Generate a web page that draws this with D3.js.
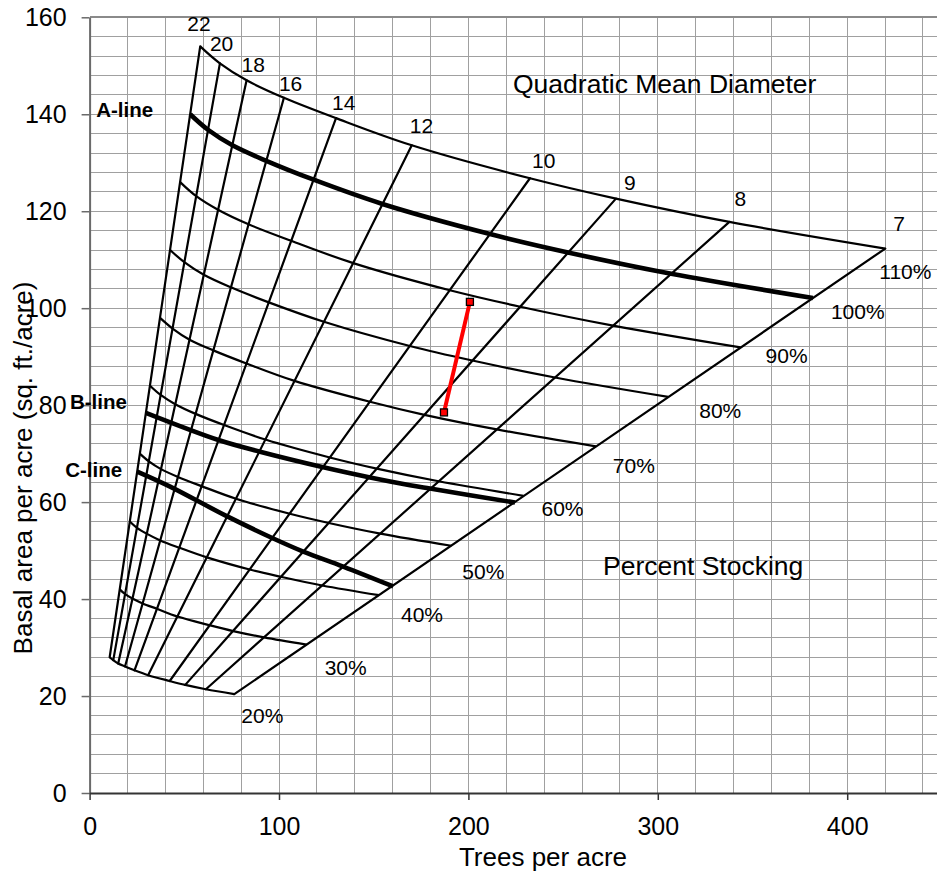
<!DOCTYPE html>
<html>
<head>
<meta charset="utf-8">
<script src="https://cdn.jsdelivr.net/npm/d3@7"></script>
<style>
  body { margin: 0; background: #fff; }
  svg text { font-family: Arial, 'Liberation Sans', sans-serif; fill: #000; }
</style>
</head>
<body>
<div id="chart"></div>
<script>
// quadratic mean diameter lines (inches), left to right
const DIAMETERS = ['22', '20', '18', '16', '14', '12', '10', '9', '8', '7'];
const STOCKING_LABELS = ['20%', '30%', '40%', '50%', '60%', '70%', '80%', '90%', '100%', '110%'];
const X_TICKS = [0, 100, 200, 300, 400];
const Y_TICKS = [0, 20, 40, 60, 80, 100, 120, 140, 160];

// [trees per acre, basal area] where each stocking line meets the diameter lines (22 ... 7)
const stock20 = [[10.6, 28.0], [12.5, 27.4], [15.1, 26.7], [18.7, 26.1], [23.7, 25.3], [30.9, 24.3], [42.3, 23.1], [50.5, 22.3], [61.4, 21.4], [76.4, 20.4]];
const stock30 = [[15.9, 42.0], [18.8, 41.0], [22.6, 40.1], [28.0, 39.1], [35.5, 38.0], [46.4, 36.4], [63.4, 34.6], [75.8, 33.4], [92.1, 32.1], [114.6, 30.6]];
const stock40 = [[21.2, 56.0], [25.0, 54.7], [30.1, 53.5], [37.3, 52.1], [47.3, 50.6], [61.9, 48.6], [84.5, 46.1], [101.1, 44.6], [122.8, 42.8], [152.8, 40.8]];
const stock50 = [[26.5, 70.0], [31.3, 68.4], [37.7, 66.8], [46.6, 65.2], [59.1, 63.3], [77.3, 60.7], [105.7, 57.6], [126.3, 55.7], [153.5, 53.5], [191.0, 51.0]];
const stock60 = [[31.9, 84.0], [37.5, 82.1], [45.2, 80.2], [56.0, 78.2], [71.0, 75.9], [92.8, 72.9], [126.8, 69.2], [151.6, 66.9], [184.3, 64.3], [229.1, 61.3]];
const stock70 = [[37.2, 98.0], [43.8, 95.8], [52.8, 93.5], [65.3, 91.3], [82.8, 88.6], [108.2, 85.0], [148.0, 80.7], [176.8, 78.0], [215.0, 75.0], [267.3, 71.5]];
const stock80 = [[42.5, 112.0], [50.0, 109.5], [60.3, 106.9], [74.6, 104.3], [94.6, 101.2], [123.7, 97.2], [169.1, 92.2], [202.1, 89.2], [245.7, 85.7], [305.5, 81.7]];
const stock90 = [[47.8, 126.0], [56.3, 123.1], [67.8, 120.3], [83.9, 117.3], [106.4, 113.9], [139.2, 109.3], [190.2, 103.7], [227.4, 100.3], [276.4, 96.4], [343.7, 91.9]];
const stock100 = [[53.1, 140.0], [62.5, 136.8], [75.4, 133.6], [93.3, 130.4], [118.3, 126.5], [154.6, 121.5], [211.4, 115.3], [252.6, 111.5], [307.1, 107.1], [381.9, 102.1]];
const stock110 = [[58.4, 154.0], [68.8, 150.5], [82.9, 147.0], [102.6, 143.4], [130.1, 139.2], [170.1, 133.6], [232.5, 126.8], [277.9, 122.6], [337.8, 117.8], [420.1, 112.3]];

const bLine = [[29.7, 78.4], [68.0, 72.8], [90.0, 70.4], [123.4, 67.2], [148.1, 65.1], [169.2, 63.5], [179.7, 62.8], [224.6, 59.9]];
const cLine = [[25.1, 66.3], [42.5, 63.2], [72.4, 57.1], [97.0, 52.5], [112.8, 49.8], [133.9, 46.7], [160.3, 42.6]];
const standPath = [[187.1, 78.5], [200.8, 101.3]];

const stockingCurves = [stock20, stock30, stock40, stock50, stock60, stock70, stock80, stock90, stock100, stock110];

// label nudges in pixels (layout only)
const diamLabelOffsets = [[-13, -15], [-10, -12], [-5, -8], [-5, -7], [-4, -8], [-2, -12], [2, -10], [8, -9], [5, -16], [8, -18]];
const pctLabelOffsets = [[7, 29], [18, 30], [22, 27], [11, 33], [18, 20], [17, 27], [31, 21], [25, 16], [18, 21], [-6, 30]];

const width = 937;
const height = 873;

const svg = d3.select('#chart')
  .append('svg')
  .attr('width', width)
  .attr('height', height)
  .style('background', '#fff');

const x = d3.scaleLinear().domain([0, 450]).range([89.6, 941.9]);
const y = d3.scaleLinear().domain([0, 160]).range([793, 17.3]);

// grid
const grid = svg.append('g').attr('shape-rendering', 'crispEdges');
grid.selectAll('.vgrid')
  .data(d3.range(20, 441, 20))
  .join('line')
  .attr('x1', (d) => x(d))
  .attr('x2', (d) => x(d))
  .attr('y1', y(0))
  .attr('y2', y(160))
  .attr('stroke', '#a0a0a0')
  .attr('stroke-width', 1);
grid.selectAll('.hgrid')
  .data(d3.range(4, 160, 4))
  .join('line')
  .attr('x1', x(0))
  .attr('x2', x(450))
  .attr('y1', (d) => y(d))
  .attr('y2', (d) => y(d))
  .attr('stroke', '#a0a0a0')
  .attr('stroke-width', 1);
grid.append('line')
  .attr('x1', x(0)).attr('x2', x(450))
  .attr('y1', y(160)).attr('y2', y(160))
  .attr('stroke', '#8a8a8a')
  .attr('stroke-width', 2);

// axes
const yAxis = svg.append('g')
  .attr('transform', `translate(${x(0)},0)`)
  .call(d3.axisLeft(y).tickValues(Y_TICKS).tickSize(8).tickSizeOuter(0).tickPadding(15));
yAxis.select('.domain').attr('stroke', '#6a6a6a').attr('stroke-width', 2);
yAxis.selectAll('.tick line').attr('stroke', '#6a6a6a').attr('stroke-width', 1.5);
yAxis.selectAll('text').attr('font-size', 25).attr('font-family', null);

const xAxis = svg.append('g')
  .attr('transform', `translate(0,${y(0)})`)
  .call(d3.axisBottom(x).tickValues(X_TICKS).tickSize(7).tickSizeOuter(0).tickPadding(17));
xAxis.select('.domain').attr('stroke', '#333').attr('stroke-width', 2);
xAxis.selectAll('.tick line').attr('stroke', '#333').attr('stroke-width', 1.5);
xAxis.selectAll('text').attr('font-size', 25).attr('font-family', null);

const curveLine = d3.line()
  .x((d) => x(d[0]))
  .y((d) => y(d[1]))
  .curve(d3.curveCatmullRom.alpha(0.5));

// percent stocking lines (100% is the A-line, drawn heavy)
svg.append('g')
  .selectAll('path')
  .data(stockingCurves)
  .join('path')
  .attr('d', curveLine)
  .attr('fill', 'none')
  .attr('stroke', '#000')
  .attr('stroke-width', (d, i) => (i === 8 ? 4.6 : 2.2));

// diameter lines run from the 20% line to the 110% line
svg.append('g')
  .selectAll('line')
  .data(DIAMETERS.map((dia, i) => [stock20[i], stock110[i]]))
  .join('line')
  .attr('x1', (d) => x(d[0][0]))
  .attr('y1', (d) => y(d[0][1]))
  .attr('x2', (d) => x(d[1][0]))
  .attr('y2', (d) => y(d[1][1]))
  .attr('stroke', '#000')
  .attr('stroke-width', 2.2)
  .attr('stroke-linecap', 'round');

// B and C lines
svg.append('g')
  .selectAll('path')
  .data([bLine, cLine])
  .join('path')
  .attr('d', curveLine)
  .attr('fill', 'none')
  .attr('stroke', '#000')
  .attr('stroke-width', 4.6);

// stand path
svg.append('path')
  .attr('d', d3.line().x((d) => x(d[0])).y((d) => y(d[1]))(standPath))
  .attr('fill', 'none')
  .attr('stroke', '#ff0000')
  .attr('stroke-width', 4);
svg.append('g')
  .selectAll('rect')
  .data(standPath)
  .join('rect')
  .attr('x', (d) => x(d[0]) - 3.5)
  .attr('y', (d) => y(d[1]) - 3.5)
  .attr('width', 7)
  .attr('height', 7)
  .attr('fill', '#ff0000')
  .attr('stroke', '#000')
  .attr('stroke-width', 1.3);

// diameter labels at the top ends
svg.append('g')
  .selectAll('text')
  .data(DIAMETERS)
  .join('text')
  .attr('x', (d, i) => x(stock110[i][0]) + diamLabelOffsets[i][0])
  .attr('y', (d, i) => y(stock110[i][1]) + diamLabelOffsets[i][1])
  .attr('font-size', 21)
  .text((d) => d);

// percent labels at the right ends
svg.append('g')
  .selectAll('text')
  .data(STOCKING_LABELS)
  .join('text')
  .attr('x', (d, i) => x(stockingCurves[i][9][0]) + pctLabelOffsets[i][0])
  .attr('y', (d, i) => y(stockingCurves[i][9][1]) + pctLabelOffsets[i][1])
  .attr('font-size', 21)
  .text((d) => d);

// A / B / C line names
const lineNames = [
  { name: 'A-line', start: stock100[0], dx: -37, dy: 3 },
  { name: 'B-line', start: bLine[0], dx: -19, dy: -4 },
  { name: 'C-line', start: cLine[0], dx: -15, dy: 5 },
];
svg.append('g')
  .selectAll('text')
  .data(lineNames)
  .join('text')
  .attr('x', (d) => x(d.start[0]) + d.dx)
  .attr('y', (d) => y(d.start[1]) + d.dy)
  .attr('text-anchor', 'end')
  .attr('font-size', 20.5)
  .attr('font-weight', 'bold')
  .text((d) => d.name);

// annotations and axis titles
svg.append('text')
  .attr('x', 513)
  .attr('y', 93)
  .attr('font-size', 26.5)
  .text('Quadratic Mean Diameter');
svg.append('text')
  .attr('x', 603)
  .attr('y', 575)
  .attr('font-size', 26.5)
  .text('Percent Stocking');
svg.append('text')
  .attr('x', 543)
  .attr('y', 866)
  .attr('text-anchor', 'middle')
  .attr('font-size', 26)
  .text('Trees per acre');
svg.append('text')
  .attr('transform', 'translate(32,468) rotate(-90)')
  .attr('text-anchor', 'middle')
  .attr('font-size', 26)
  .text('Basal area per acre (sq. ft./acre)');
</script>
</body>
</html>
